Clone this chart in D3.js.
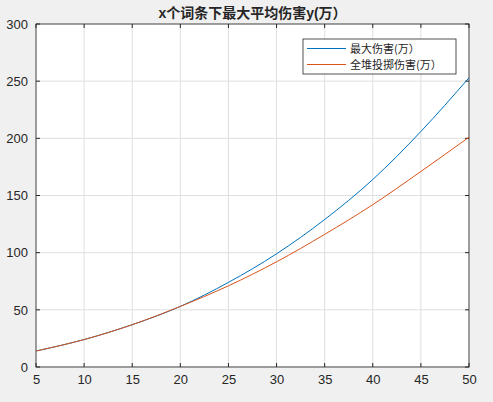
<!DOCTYPE html><html><head><meta charset="utf-8"><script src="https://cdn.jsdelivr.net/npm/d3@7"></script>
<style>body{margin:0;background:#f0f0f0}svg{font-family:Arial,"Liberation Sans","Noto Sans CJK SC",sans-serif}</style></head><body><svg id="c" width="493" height="402"></svg><script>
const xs=[5,10,15,20,25,30,35,40,45,50];
const maxDmg=[14,24,37,53,74,99,129,164,206,253];
const pileDmg=[14,24,37,53,71,92,116,142,171,201];
const xTicks=[5,10,15,20,25,30,35,40,45,50];
const yTicks=[0,50,100,150,200,250,300];
const title="x个词条下最大平均伤害y(万）";
const names=["最大伤害(万）","全堆投掷伤害(万）"];
const colors=["#0072bd","#d95319"];
const svg=d3.select("#c");
const L=36,R=469,T=24,B=367;
const x=d3.scaleLinear().domain([5,50]).range([L,R]);
const y=d3.scaleLinear().domain([0,300]).range([B,T]);
svg.append("rect").attr("x",L).attr("y",T).attr("width",R-L).attr("height",B-T).attr("fill","#fff");
const g=svg.append("g");
xTicks.forEach(t=>g.append("line").attr("x1",x(t)).attr("x2",x(t)).attr("y1",T).attr("y2",B).attr("stroke","#dfdfdf"));
yTicks.forEach(t=>g.append("line").attr("y1",y(t)).attr("y2",y(t)).attr("x1",L).attr("x2",R).attr("stroke","#dfdfdf"));
const ax=svg.append("g").attr("transform",`translate(0,${B})`).call(d3.axisBottom(x).tickValues(xTicks).tickSize(0).tickPadding(8));
const ay=svg.append("g").attr("transform",`translate(${L},0)`).call(d3.axisLeft(y).tickValues(yTicks).tickSize(0).tickPadding(8));
[ax,ay].forEach(a=>{a.select(".domain").remove();a.selectAll("text").attr("font-size",13).attr("fill","#262626").attr("font-family","Arial,'Liberation Sans'");});
svg.append("rect").attr("x",L).attr("y",T).attr("width",R-L).attr("height",B-T).attr("fill","none").attr("stroke","#262626").attr("stroke-width",0.8);
xTicks.forEach(t=>{svg.append("line").attr("x1",x(t)).attr("x2",x(t)).attr("y1",B).attr("y2",B-4).attr("stroke","#262626");svg.append("line").attr("x1",x(t)).attr("x2",x(t)).attr("y1",T).attr("y2",T+4).attr("stroke","#262626");});
yTicks.forEach(t=>{svg.append("line").attr("y1",y(t)).attr("y2",y(t)).attr("x1",L).attr("x2",L+4).attr("stroke","#262626");svg.append("line").attr("y1",y(t)).attr("y2",y(t)).attr("x1",R).attr("x2",R-4).attr("stroke","#262626");});
const line=d3.line().x((d,i)=>x(xs[i])).y(d=>y(d)).curve(d3.curveMonotoneX);
[maxDmg,pileDmg].forEach((s,i)=>svg.append("path").attr("d",line(s)).attr("fill","none").attr("stroke",colors[i]).attr("stroke-width",1));
svg.append("text").attr("x",(L+R)/2).attr("y",18).attr("text-anchor","middle").attr("font-size",14).attr("font-weight","bold").attr("fill","#262626").text(title);
const lg=svg.append("g");
lg.append("rect").attr("x",303).attr("y",39).attr("width",153).attr("height",35).attr("fill","#fff").attr("stroke","#262626").attr("stroke-width",0.8);
names.forEach((n,i)=>{const yy=48.5+i*16;
lg.append("line").attr("x1",307).attr("x2",346).attr("y1",yy).attr("y2",yy).attr("stroke",colors[i]);
lg.append("text").attr("x",350).attr("y",yy+4).attr("font-size",11).attr("fill","#262626").attr("font-family","'Noto Sans CJK SC'").text(n);});
</script></body></html>
